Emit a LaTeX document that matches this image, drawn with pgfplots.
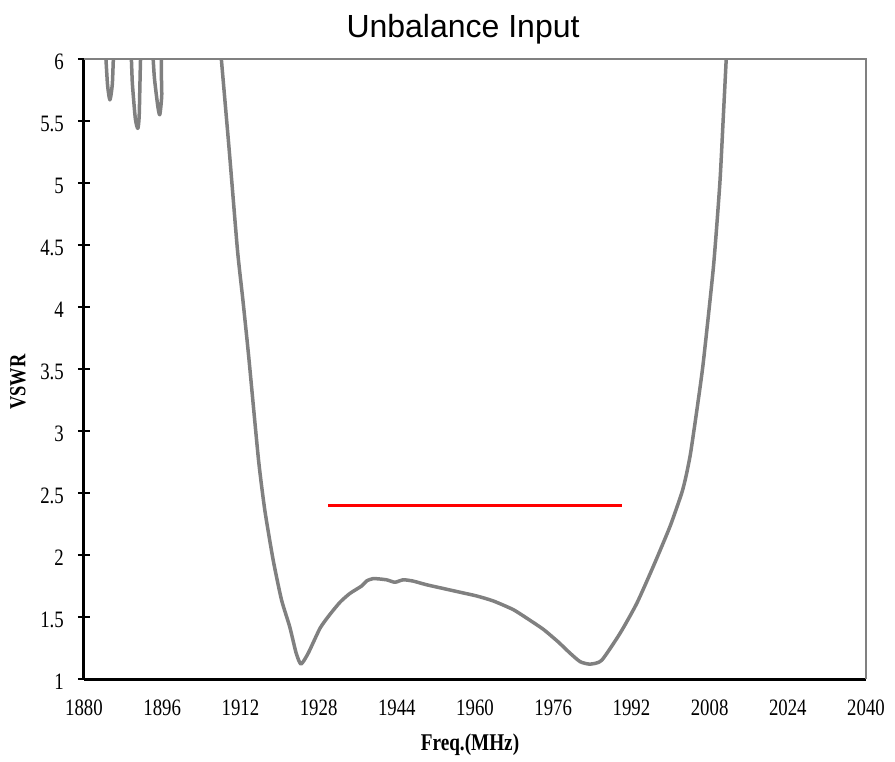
\documentclass[border=0pt]{standalone}
\usepackage{fontspec}
\setmainfont{Liberation Serif}
\newfontfamily\titlefont{Liberation Sans}
\newfontfamily\tickfont[FakeStretch=0.8]{Liberation Serif}
\usepackage{pgfplots}
\pgfplotsset{compat=1.18}
\usetikzlibrary{calc}
\definecolor{curvegray}{RGB}{128,128,128}
\begin{document}
\begin{tikzpicture}
\begin{axis}[
  scale only axis, width=782bp, height=620bp,
  xmin=1880, xmax=2040, ymin=1, ymax=6,
  xtick={1880,1896,1912,1928,1944,1960,1976,1992,2008,2024,2040},
  ytick={1,1.5,2,2.5,3,3.5,4,4.5,5,5.5,6},
  yticklabels={1,1.5,2,2.5,3,3.5,4,4.5,5,5.5,6},
  /pgf/number format/1000 sep={},
  /pgf/number format/assume math mode=true,
  axis x line*=bottom, axis y line*=left,
  axis line style={line width=3bp, black, -},
  x tick style={draw=none},
  y tick style={line width=2bp, black},
  tick align=center, major tick length=12bp,
  ticklabel style={font=\tickfont\fontsize{23.5bp}{23.5bp}\selectfont},
  xticklabel style={anchor=north, inner sep=0pt, yshift=-15bp},
  yticklabel style={anchor=east, inner sep=0pt, xshift=-14bp, yshift=-3bp},
  clip mode=individual,
  title={Unbalance Input},
  title style={font=\titlefont\fontsize{32bp}{32bp}\selectfont, at={(axis description cs:0.4847,1.038)}, anchor=center, inner sep=0pt, yshift=0pt},
  xlabel={Freq.(MHz)},
  xlabel style={font=\tickfont\bfseries\fontsize{24bp}{24bp}\selectfont, at={(axis description cs:0.4936,-0.106)}, anchor=center, inner sep=0pt},
  ylabel={VSWR},
  ylabel style={font=\tickfont\bfseries\fontsize{23bp}{23bp}\selectfont, at={(axis description cs:-0.0844,0.479)}, anchor=center, inner sep=0pt},
]
\addplot[color=curvegray, line width=3.5bp, line join=round, smooth, tension=0.35] coordinates {
 (1884.2,6.2) (1884.8,5.8) (1885.3,5.67) (1885.8,5.8) (1886.4,6.2)
 (1889.3,6.2) (1889.9,5.8) (1890.5,5.52) (1891.0,5.44) (1891.3,5.55) (1891.8,6.2)
 (1893.7,6.2) (1894.4,5.85) (1895.1,5.62) (1895.5,5.55) (1895.9,5.7) (1896.5,6.2)
 (1907.7,6.2) (1908.1,6.0) (1909.7,5.27) (1911.4,4.46) (1912.5,4.06) (1913.7,3.6)
 (1915.7,2.77) (1917.0,2.36) (1918.7,1.96) (1920.4,1.64) (1922.1,1.42) (1923.4,1.21)
 (1924.4,1.12) (1925.9,1.21) (1928.3,1.41) (1930.3,1.52) (1932.4,1.62) (1934.4,1.69)
 (1936.8,1.75) (1937.8,1.79) (1939.2,1.81) (1941.9,1.80) (1943.6,1.78) (1945.3,1.80)
 (1947.3,1.79) (1950.1,1.76) (1953.5,1.73) (1956.9,1.70) (1960.3,1.67) (1963.7,1.63)
 (1967.8,1.56) (1971.0,1.48) (1974.0,1.40) (1977.0,1.30) (1979.4,1.21) (1981.5,1.14)
 (1983.5,1.12) (1985.9,1.15) (1989.7,1.37) (1993.1,1.61) (1996.5,1.91) (1999.9,2.23)
 (2002.3,2.50) (2003.2,2.64) (2004.1,2.82) (2005.4,3.17) (2006.7,3.55) (2008.8,4.33) (2010.1,5.00)
 (2010.8,5.53) (2011.4,6.0) (2011.6,6.2)
};
\addplot[color=red, line width=3.5bp] coordinates {(1930,2.4) (1990,2.4)};
\draw[line width=2.5bp, color=curvegray] (rel axis cs:0,1) -- (rel axis cs:1,1) -- (rel axis cs:1,0);
\coordinate (sw) at (rel axis cs:0,0);
\coordinate (ne) at (rel axis cs:1,1);
\end{axis}
\pgfresetboundingbox
\path[use as bounding box] ($(sw)+(-84bp,-83bp)$) rectangle ($(ne)+(29bp,59bp)$);
\end{tikzpicture}
\end{document}
